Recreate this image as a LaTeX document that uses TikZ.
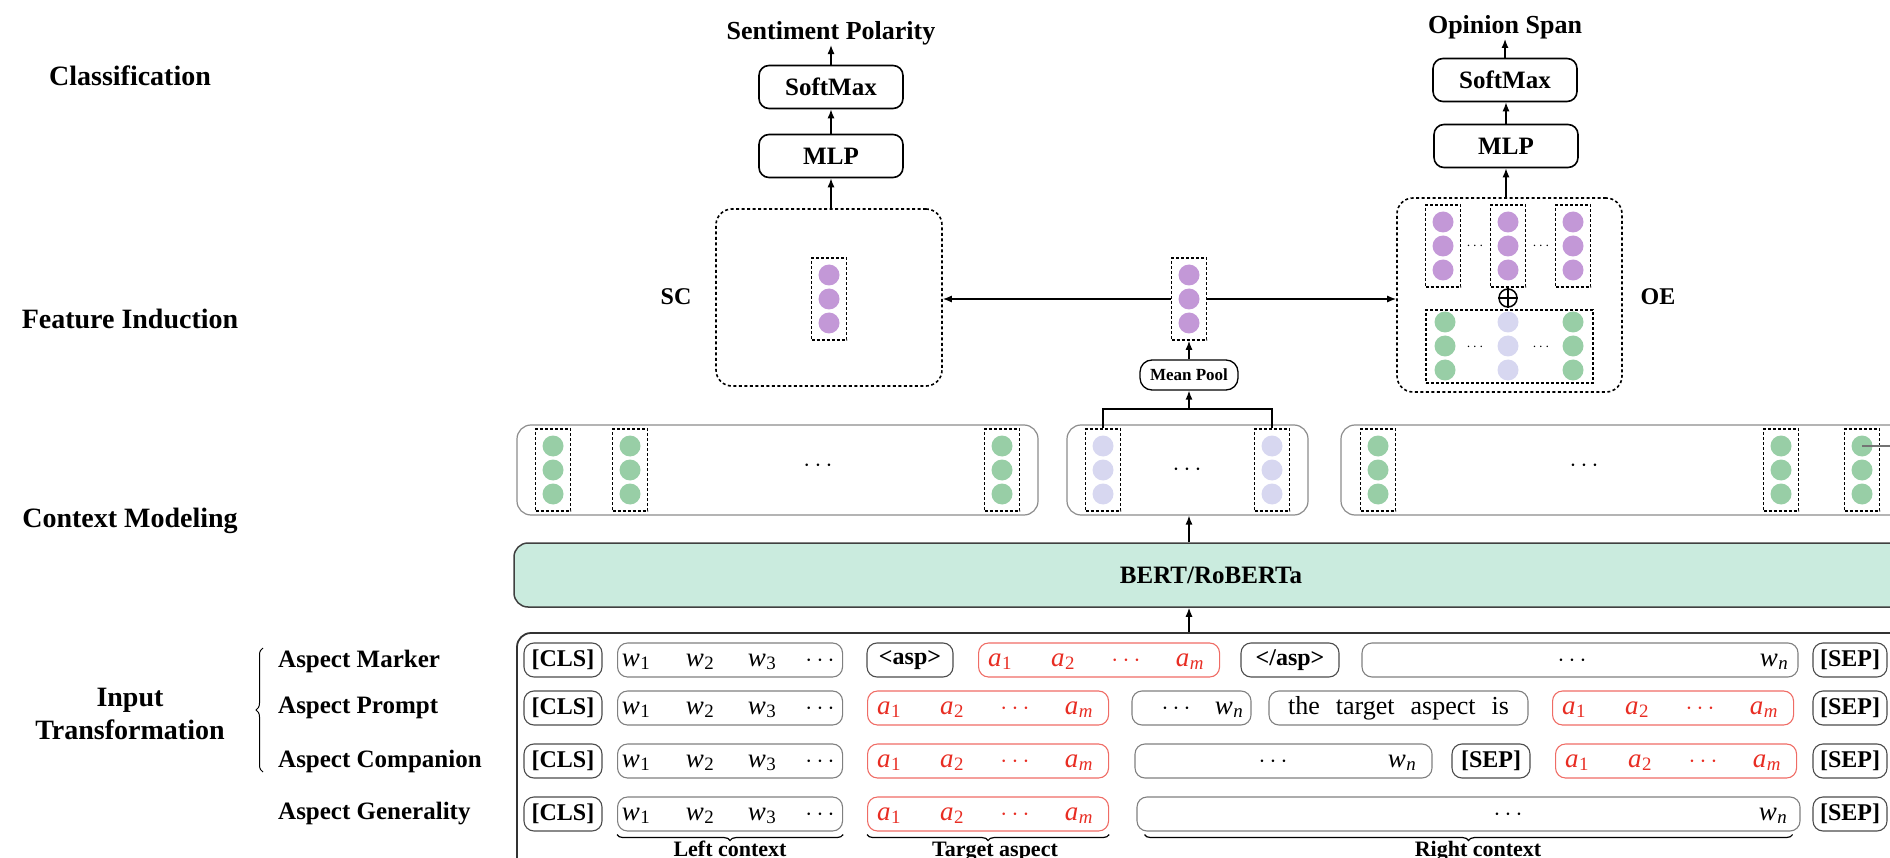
\documentclass[tikz,border=0pt]{standalone}
\usepackage{fontspec}
\setmainfont{Liberation Serif}
\usetikzlibrary{arrows.meta,decorations.pathreplacing,calc}
\definecolor{pur}{RGB}{195,152,215}
\definecolor{grn}{RGB}{152,206,166}
\definecolor{lav}{RGB}{215,215,240}
\definecolor{mint}{RGB}{202,235,222}
\definecolor{tred}{RGB}{232,45,35}

\tikzset{
  stage/.style={font=\fontsize{28}{33}\selectfont\bfseries, align=center, inner sep=0},
  asplab/.style={font=\fontsize{25}{28}\selectfont\bfseries, anchor=west, inner sep=0},
  blk/.style={draw, rounded corners=10pt, line width=1.6pt, minimum width=144pt, minimum height=43pt, inner sep=0, font=\fontsize{25}{28}\selectfont\bfseries},
  outl/.style={font=\fontsize{26}{28}\selectfont\bfseries, inner sep=0},
  arr/.style={-{Latex[length=9pt,width=7pt]}, line width=1.3pt},
  region/.style={draw, dash pattern=on 3pt off 2.5pt, line width=1.6pt, rounded corners=16pt, inner sep=0},
  colbox/.style={draw, dash pattern=on 3pt off 2pt, line width=1.6pt, minimum width=35pt, minimum height=82pt, inner sep=0},
  dotc/.style={circle, minimum size=21pt, inner sep=0},
  ctx/.style={draw=black!45, line width=1.2pt, rounded corners=14pt, minimum height=90pt, inner sep=0},
  tok/.style={draw=black!50, line width=1.1pt, rounded corners=10pt, minimum height=34pt, inner sep=0},
  btok/.style={tok, draw=black!70, font=\fontsize{24}{26}\selectfont\bfseries},
  rtok/.style={tok, draw=tred!70},
  mt/.style={anchor=base, inner sep=0, font=\fontsize{27}{29}\selectfont},
  rt/.style={mt, text=tred},
  cd/.style={inner sep=0, font=\fontsize{24}{26}\selectfont},
  sd/.style={inner sep=0, font=\fontsize{15}{16}\selectfont},
  brc/.style={decorate, decoration={brace, amplitude=6pt}, line width=1.2pt},
  brlab/.style={anchor=base, inner sep=0, font=\fontsize{22}{24}\selectfont\bfseries},
}

\newcommand{\tk}[2]{\textit{#1}\kern0.5pt\textsubscript{#2}}
\newcommand{\dcol}[4]{%
  \node[dotc, fill=#4] (#1a) at ({#2},{#3-24}) {};
  \node[dotc, fill=#4] (#1b) at ({#2},{#3}) {};
  \node[dotc, fill=#4] (#1c) at ({#2},{#3+24}) {};
}
\newcommand{\vcol}[4]{%
  \node[colbox] (#1) at ({#2},{#3}) {};
  \dcol{#1}{#2}{#3}{#4}
}
\newcommand{\wtoks}[3]{%
  \node[tok, minimum width=225pt, anchor=west] (#1) at ({#2},{#3}) {};
  \node[mt] (#1w1) at ({#2+19},{#3+6}) {\tk{w}{1}};
  \node[mt] (#1w2) at ({#2+83},{#3+6}) {\tk{w}{2}};
  \node[mt] (#1w3) at ({#2+145},{#3+6}) {\tk{w}{3}};
  \node[mt] (#1d) at ({#2+203},{#3+6}) {$\cdots$};
}
\newcommand{\atoks}[3]{%
  \node[rtok, minimum width=241pt, anchor=west] (#1) at ({#2},{#3}) {};
  \node[rt] (#1a1) at ({#2+22},{#3+6}) {\tk{a}{1}};
  \node[rt] (#1a2) at ({#2+85},{#3+6}) {\tk{a}{2}};
  \node[rt] (#1d) at ({#2+148},{#3+6}) {$\cdots$};
  \node[rt] (#1am) at ({#2+212},{#3+6}) {\tk{a}{\textit{m}}};
}

\begin{document}
\begin{tikzpicture}[x=1pt,y=-1pt]
\useasboundingbox (0,0) rectangle (1890,858);
\clip (0,0) rectangle (1890,858);

% stage labels
\node[stage] (lcls) at (130,76) {Classification};
\node[stage] (lfi) at (130,319) {Feature Induction};
\node[stage] (lcm) at (130,521) {Context Modeling};
\node[stage] (lit) at (130,714) {Input\\Transformation};
\draw[brc, decoration={brace, amplitude=7pt}, line width=1pt] (263,772) -- (263,648);
\node[asplab] (am) at (278,661) {Aspect Marker};
\node[asplab] (ap) at (278,708) {Aspect Prompt};
\node[asplab] (ac) at (278,761) {Aspect Companion};
\node[asplab] (ag) at (278,814) {Aspect Generality};

% SC branch
\node[outl] (sp) at (831,33) {Sentiment Polarity};
\node[blk] (smL) at (831,87) {SoftMax};
\node[blk] (mlL) at (831,156) {MLP};
\node[region, minimum width=226pt, minimum height=177pt] (sc) at (829,297.5) {};
\node[outl, font=\fontsize{24}{26}\selectfont\bfseries] (sclab) at (676,297) {SC};
\vcol{scv}{829}{299}{pur}

% pooled vector
\vcol{mp}{1189}{299}{pur}
\node[blk, minimum width=98pt, minimum height=30pt, rounded corners=12pt, line width=1.3pt, font=\fontsize{17}{19}\selectfont\bfseries] (mean) at (1189,375) {Mean Pool};

% OE branch
\node[outl] (os) at (1505,27) {Opinion Span};
\node[blk] (smR) at (1505,80) {SoftMax};
\node[blk] (mlR) at (1506,146) {MLP};
\node[region, minimum width=225pt, minimum height=194pt] (oe) at (1509.5,295) {};
\node[outl, font=\fontsize{24}{26}\selectfont\bfseries] (oelab) at (1658,297) {OE};
\vcol{o1}{1443}{246}{pur}
\vcol{o2}{1508}{246}{pur}
\vcol{o3}{1573}{246}{pur}
\node[sd] (od1) at (1475,246) {$\cdots$};
\node[sd] (od2) at (1541,246) {$\cdots$};
\node[circle, draw, line width=1.5pt, minimum size=18pt, inner sep=0] (plus) at (1508,298) {};
\draw[line width=1.5pt] (plus.north) -- (plus.south);
\draw[line width=1.5pt] (plus.west) -- (plus.east);
\node[colbox, minimum width=167pt, minimum height=73pt] (og) at (1509.5,346.5) {};
\dcol{og1}{1445}{346}{grn}
\dcol{og2}{1508}{346}{lav}
\dcol{og3}{1573}{346}{grn}
\node[sd] (od3) at (1475,347) {$\cdots$};
\node[sd] (od4) at (1541,347) {$\cdots$};

% context modeling
\node[ctx, minimum width=521pt] (ctx1) at (777.5,470) {};
\node[ctx, minimum width=241pt] (ctx2) at (1187.5,470) {};
\node[ctx, minimum width=580pt] (ctx3) at (1631,470) {};
\vcol{g1}{553}{470}{grn}
\vcol{g2}{630}{470}{grn}
\vcol{g3}{1002}{470}{grn}
\vcol{m1}{1103}{470}{lav}
\vcol{m2}{1272}{470}{lav}
\vcol{g4}{1378}{470}{grn}
\vcol{g5}{1781}{470}{grn}
\vcol{g6}{1862}{470}{grn}
\node[cd] (cd1) at (818,466) {$\cdots$};
\node[cd] (cd2) at (1187,470) {$\cdots$};
\node[cd] (cd3) at (1584,466) {$\cdots$};
\coordinate (edge) at (1900,446);
\draw[black!55, line width=1.2pt] (g6a.center) -- (edge);

% encoder
\node[draw=black!75, fill=mint, line width=1.5pt, rounded corners=14pt, minimum width=1394pt, minimum height=64pt, inner sep=0, font=\fontsize{25}{28}\selectfont\bfseries] (bert) at (1211,575) {BERT/RoBERTa};

% input box
\node[draw=black!80, line width=1.8pt, rounded corners=14pt, minimum width=1390pt, minimum height=250pt, inner sep=0] (inp) at (1212,758) {};

% row 1: aspect marker
\node[btok, minimum width=78pt] (c1) at (563,660) {[CLS]};
\wtoks{w1}{617}{660}
\node[btok, minimum width=86pt] (as1) at (910,660) {<asp>};
\atoks{a1}{978}{660}
\node[btok, minimum width=98pt] (as2) at (1290,660) {</asp>};
\node[tok, minimum width=436pt] (l1) at (1580,660) {};
\node[mt] (l1d) at (1572,666) {$\cdots$};
\node[mt] (l1n) at (1774,666) {\tk{w}{\textit{n}}};
\node[btok, minimum width=74pt] (s1) at (1850,660) {[SEP]};

% row 2: aspect prompt
\node[btok, minimum width=78pt] (c2) at (563,708) {[CLS]};
\wtoks{w2}{617}{708}
\atoks{a2}{867}{708}
\node[tok, minimum width=119pt] (p2) at (1191.5,708) {};
\node[mt] (p2d) at (1176,714) {$\cdots$};
\node[mt] (p2n) at (1229,714) {\tk{w}{\textit{n}}};
\node[tok, minimum width=259pt, font=\fontsize{26}{28}\selectfont] (ph) at (1398.5,708) {the\hspace{16pt}target\hspace{16pt}aspect\hspace{16pt}is};
\atoks{a2r}{1552}{708}
\node[btok, minimum width=74pt] (s2) at (1850,708) {[SEP]};

% row 3: aspect companion
\node[btok, minimum width=78pt] (c3) at (563,761) {[CLS]};
\wtoks{w3}{617}{761}
\atoks{a3}{867}{761}
\node[tok, minimum width=297pt] (l3) at (1283.5,761) {};
\node[mt] (l3d) at (1273,767) {$\cdots$};
\node[mt] (l3n) at (1402,767) {\tk{w}{\textit{n}}};
\node[btok, minimum width=78pt] (m3) at (1491,761) {[SEP]};
\atoks{a3r}{1555}{761}
\node[btok, minimum width=74pt] (s3) at (1850,761) {[SEP]};

% row 4: aspect generality
\node[btok, minimum width=78pt] (c4) at (563,814) {[CLS]};
\wtoks{w4}{617}{814}
\atoks{a4}{867}{814}
\node[tok, minimum width=663pt] (l4) at (1468.5,814) {};
\node[mt] (l4d) at (1508,820) {$\cdots$};
\node[mt] (l4n) at (1773,820) {\tk{w}{\textit{n}}};
\node[btok, minimum width=74pt] (s4) at (1850,814) {[SEP]};

% braces
\draw[brc] ([yshift=-3pt]w4.south east) -- ([yshift=-3pt]w4.south west);
\node[brlab] (blc) at (730,856) {Left context};
\draw[brc] ([yshift=-3pt]a4.south east) -- ([yshift=-3pt]a4.south west);
\node[brlab] (bta) at (995,856) {Target aspect};
\draw[brc] ([yshift=-3pt,xshift=-8pt]l4.south east) -- ([yshift=-3pt,xshift=8pt]l4.south west);
\node[brlab] (brc) at (1478,856) {Right context};

% connectors
\draw[arr] (smL.north) -- (sp.south);
\draw[arr] (mlL.north) -- (smL.south);
\draw[arr] (sc.north -| mlL) -- (mlL.south);
\draw[arr] (mp.west) -- (sc.east |- mp.west);
\draw[arr] (mp.east) -- (oe.west |- mp.east);
\draw[arr] (mean.north) -- (mp.south);
\coordinate (brk) at (1189,409);
\draw[line width=1.3pt] (m1.north) |- (brk) -| (m2.north);
\draw[arr] (brk) -- (mean.south);
\draw[arr] (smR.north) -- (os.south);
\draw[arr] (mlR.north) -- (smR.south -| mlR);
\draw[arr] (oe.north -| mlR) -- (mlR.south);
\draw[arr] (bert.north -| mp) -- (ctx2.south -| mp);
\draw[arr] (inp.north -| mp) -- (bert.south -| mp);
\end{tikzpicture}
\end{document}
